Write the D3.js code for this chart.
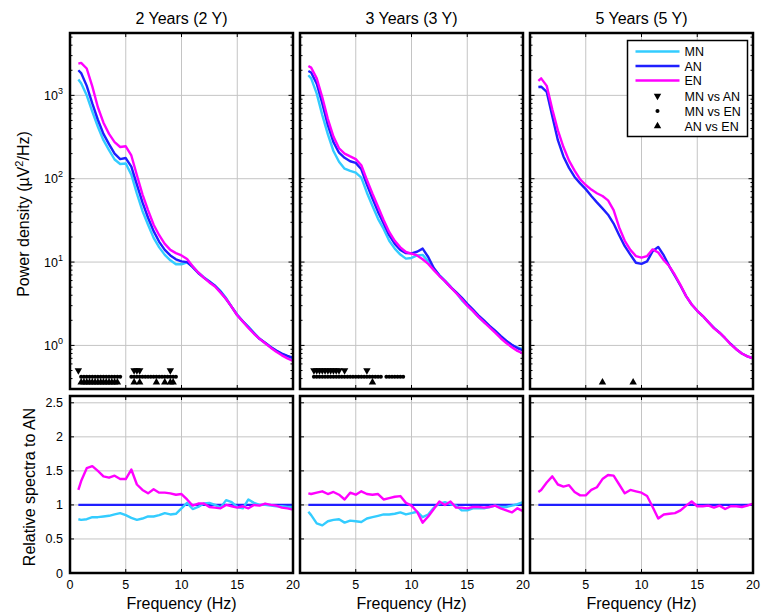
<!DOCTYPE html>
<meta charset="utf-8">
<script src="https://d3js.org/d3.v7.min.js"></script>
<style>
  body { margin: 0; background: #fff; }
  text { font-family: "Liberation Sans", Arial, sans-serif; fill: #000; }
</style>
<body>
<div id="chart"></div>
<script>
// frequency grid (Hz)
var freq = [0.75, 1, 1.5, 2, 2.5, 3, 3.5, 4, 4.5, 5, 5.5, 6, 6.5, 7, 7.5, 8, 8.5, 9, 9.5, 10,
            10.5, 11, 11.5, 12, 12.5, 13, 13.5, 14, 14.5, 15, 15.5, 16, 16.5, 17, 17.5, 18, 18.5, 19, 19.5, 20];

var titles = ["2 Years (2 Y)", "3 Years (3 Y)", "5 Years (5 Y)"];
var groups = ["MN", "AN", "EN"];
var contrasts = ["MN vs AN", "MN vs EN", "AN vs EN"];

// power density (uV^2/Hz)
var mn2 = [1550, 1400, 1000, 640, 420, 290, 220, 170, 150, 152, 112, 66, 41, 28, 19.5, 15, 12.2, 10.5, 9.4, 9.4,
           9.9, 8.9, 7.5, 6.6, 5.9, 5.2, 4.5, 3.7, 2.9, 2.35, 1.95, 1.68, 1.42, 1.2, 1.07, 0.95, 0.86, 0.79, 0.74, 0.69];
var an2 = [2000, 1850, 1300, 800, 510, 345, 260, 200, 172, 177, 140, 85, 52, 34, 23.5, 17.5, 14, 12, 10.8, 10.2,
           10.0, 8.7, 7.4, 6.5, 5.8, 5.2, 4.4, 3.6, 2.9, 2.3, 1.95, 1.65, 1.4, 1.2, 1.08, 0.96, 0.87, 0.8, 0.75, 0.71];
var en2 = [2400, 2450, 2100, 1280, 720, 470, 345, 275, 240, 245, 190, 110, 65, 42, 28, 21, 16.5, 14, 12.8, 12,
           10.9, 8.9, 7.5, 6.5, 5.7, 5.1, 4.3, 3.6, 2.9, 2.3, 1.93, 1.62, 1.38, 1.2, 1.06, 0.94, 0.84, 0.76, 0.7, 0.65];

var mn3 = [1740, 1600, 1050, 580, 340, 215, 160, 132, 124, 118, 103, 68, 47, 33, 25, 18, 14.5, 12.3, 11.0, 11.2,
           12.0, 12.2, 10.2, 8.3, 7.0, 6.0, 5.1, 4.3, 3.5, 3.0, 2.6, 2.2, 1.9, 1.7, 1.48, 1.25, 1.12, 1.0, 0.95, 0.9];
var an3 = [1960, 1880, 1380, 800, 440, 275, 205, 178, 162, 155, 130, 85, 58, 40, 29, 21, 16.5, 14, 12.8, 12.7,
           13.3, 14.5, 11.5, 8.5, 6.9, 5.9, 5.0, 4.35, 3.75, 3.15, 2.7, 2.3, 2.0, 1.72, 1.5, 1.3, 1.14, 1.02, 0.93, 0.87];
var en3 = [2250, 2150, 1600, 950, 520, 320, 232, 200, 185, 172, 145, 97, 66, 46, 32, 23, 18, 15, 13.2, 12.6,
           12, 10.8, 9.5, 8.0, 6.8, 5.9, 5.0, 4.25, 3.6, 3.0, 2.6, 2.2, 1.9, 1.65, 1.42, 1.22, 1.07, 0.95, 0.86, 0.8];

// no MN group at 5 years
var an5 = [1260, 1270, 1100, 560, 290, 185, 135, 105, 88, 75, 62, 52, 44, 37, 29, 21, 15.5, 12.3, 9.8, 9.5,
           10.2, 13.5, 15.2, 12, 8.9, 6.8, 5.2, 3.9, 3.1, 2.6, 2.25, 1.9, 1.62, 1.42, 1.22, 1.04, 0.9, 0.8, 0.74, 0.7];
var en5 = [1490, 1600, 1300, 680, 380, 240, 165, 125, 98, 84, 74, 67, 62, 55, 42, 26, 18, 14, 11.8, 11.3,
           11.8, 14.2, 13, 10.5, 8.9, 7.0, 5.3, 3.9, 3.1, 2.6, 2.25, 1.9, 1.6, 1.42, 1.22, 1.03, 0.9, 0.8, 0.74, 0.7];

// spectra relative to AN
var relMn2 = [0.79, 0.78, 0.79, 0.82, 0.82, 0.83, 0.84, 0.86, 0.88, 0.85, 0.81, 0.78, 0.8, 0.83, 0.83, 0.85, 0.88, 0.86, 0.87, 0.95,
              1.03, 0.94, 0.97, 1.02, 1.03, 1.0, 0.96, 1.07, 1.04, 0.97, 0.95, 1.08, 1.03, 1.0, 1.0, 0.99, 0.98, 0.98, 0.97, 0.97];
var relEn2 = [1.22, 1.35, 1.54, 1.57, 1.5, 1.42, 1.4, 1.43, 1.38, 1.38, 1.52, 1.3, 1.22, 1.17, 1.23, 1.18, 1.18, 1.17, 1.15, 1.16,
              1.08, 0.99, 1.02, 1.02, 0.97, 0.96, 0.95, 1.0, 0.98, 0.96, 0.98, 0.95, 1.0, 0.99, 1.02, 1.0, 0.99, 0.96, 0.95, 0.93];
var relMn3 = [0.9, 0.85, 0.73, 0.7, 0.76, 0.78, 0.79, 0.74, 0.77, 0.76, 0.75, 0.8, 0.82, 0.84, 0.86, 0.86, 0.87, 0.89, 0.86, 0.88,
              0.9, 0.82, 0.86, 0.96, 1.02, 1.04, 1.01, 0.99, 0.92, 0.92, 0.95, 0.95, 0.95, 0.97, 0.99, 0.97, 0.97, 0.99, 1.01, 1.04];
var relEn3 = [1.17, 1.16, 1.18, 1.2, 1.16, 1.19, 1.15, 1.08, 1.18, 1.15, 1.2, 1.16, 1.15, 1.16, 1.08, 1.1, 1.12, 1.13, 1.03, 0.99,
              0.9, 0.74, 0.83, 0.94, 1.05, 1.0, 1.05, 0.96, 0.96, 0.95, 0.97, 0.97, 0.96, 0.97, 0.99, 0.95, 0.92, 0.89, 0.95, 0.91];
var relEn5 = [1.19, 1.22, 1.33, 1.42, 1.3, 1.27, 1.29, 1.19, 1.14, 1.14, 1.22, 1.26, 1.38, 1.44, 1.43, 1.3, 1.17, 1.22, 1.2, 1.18,
              1.13, 0.97, 0.8, 0.86, 0.87, 0.88, 0.92, 0.99, 1.05, 0.98, 0.98, 0.99, 0.96, 0.99, 0.94, 0.98, 0.98, 0.97, 0.99, 1.02];
var relAn = 1;

// frequencies with significant differences (Hz)
var sigMnAn2 = [0.75, 5.75, 6, 6.25, 9];
var sigMnEn2 = [1, 1.25, 1.5, 1.75, 2, 2.25, 2.5, 2.75, 3, 3.25, 3.5, 3.75, 4, 4.25, 4.5,
                5.5, 5.75, 6, 6.25, 6.5, 6.75, 7, 7.25, 7.5, 7.75, 8, 8.25, 8.5, 8.75, 9, 9.25, 9.5];
var sigAnEn2 = [1, 1.25, 1.5, 1.75, 2, 2.25, 2.5, 2.75, 3, 3.25, 3.5, 3.75, 4, 4.25,
                5.75, 6.25, 7.75, 8.5, 9, 9.25];
var sigMnAn3 = [1.25, 1.5, 1.75, 2, 2.25, 2.5, 2.75, 3, 3.25, 3.5, 4, 6];
var sigMnEn3 = [1.25, 1.5, 1.75, 2, 2.25, 2.5, 2.75, 3, 3.25, 3.5, 3.75, 4, 4.25, 4.5, 4.75, 5, 5.25, 5.5, 5.75, 6,
                6.25, 6.5, 6.75, 7, 7.25, 7.75, 8, 8.25, 8.5, 8.75, 9, 9.25];
var sigAnEn3 = [6.5];
var sigAnEn5 = [6.5, 9.25];
var sigLevel = [0.5, 0.42, 0.36];   // rows where the markers sit

var xTicks = [0, 5, 10, 15, 20];
var relTicks = [0, 0.5, 1, 1.5, 2, 2.5];

var colors = {MN: "#33ccff", AN: "#1f1fff", EN: "#ff00ff"};

var panels = [
  {title: titles[0], MN: mn2, AN: an2, EN: en2, relMN: relMn2, relEN: relEn2, sig: [sigMnAn2, sigMnEn2, sigAnEn2]},
  {title: titles[1], MN: mn3, AN: an3, EN: en3, relMN: relMn3, relEN: relEn3, sig: [sigMnAn3, sigMnEn3, sigAnEn3]},
  {title: titles[2], MN: null, AN: an5, EN: en5, relMN: null, relEN: relEn5, sig: [[], [], sigAnEn5]}
];

var width = 762, height = 616;
var panelLeft = [70, 300, 530], panelW = 223;
var topBox = [33, 389], botBox = [396, 573];

var svg = d3.select("#chart").append("svg")
    .attr("width", width)
    .attr("height", height);

var yTop = d3.scaleLog().domain([0.3, 5600]).range([topBox[1], topBox[0]]);
var yBot = d3.scaleLinear().domain([0, 2.6]).range([botBox[1], botBox[0]]);

var symbols = [
  d3.symbol().type(d3.symbolTriangle).size(24),
  d3.symbol().type(d3.symbolCircle).size(13),
  d3.symbol().type(d3.symbolTriangle).size(24)
];
var symRotate = [180, 0, 0];

panels.forEach(function(p, k) {
  var x = d3.scaleLinear().domain([0, 20]).range([panelLeft[k], panelLeft[k] + panelW]);
  var g = svg.append("g");

  // ---- clip paths
  ["top", "bot"].forEach(function(name) {
    var box = name == "top" ? topBox : botBox;
    svg.append("clipPath").attr("id", "clip-" + name + k)
      .append("rect")
        .attr("x", x(0)).attr("y", box[0])
        .attr("width", panelW).attr("height", box[1] - box[0]);
  });

  // ---- grid
  var grid = g.append("g").attr("stroke", "#c4c4c4").attr("stroke-width", 1);
  [5, 10, 15].forEach(function(v) {
    grid.append("line").attr("x1", x(v)).attr("x2", x(v)).attr("y1", topBox[0]).attr("y2", topBox[1]);
    grid.append("line").attr("x1", x(v)).attr("x2", x(v)).attr("y1", botBox[0]).attr("y2", botBox[1]);
  });
  [1, 10, 100, 1000].forEach(function(v) {
    grid.append("line").attr("x1", x(0)).attr("x2", x(20)).attr("y1", yTop(v)).attr("y2", yTop(v));
  });
  relTicks.slice(1).forEach(function(v) {
    grid.append("line").attr("x1", x(0)).attr("x2", x(20)).attr("y1", yBot(v)).attr("y2", yBot(v));
  });

  // ---- inward ticks
  var ticks = g.append("g").attr("stroke", "#000").attr("stroke-width", 1);
  xTicks.forEach(function(v) {
    [topBox, botBox].forEach(function(box) {
      ticks.append("line").attr("x1", x(v)).attr("x2", x(v)).attr("y1", box[1]).attr("y2", box[1] - 4);
      ticks.append("line").attr("x1", x(v)).attr("x2", x(v)).attr("y1", box[0]).attr("y2", box[0] + 4);
    });
  });
  yTop.ticks().forEach(function(v) {
    var major = Math.abs(Math.log10(v) % 1) < 1e-9;
    var len = major ? 4.5 : 2.5;
    ticks.append("line").attr("x1", x(0)).attr("x2", x(0) + len).attr("y1", yTop(v)).attr("y2", yTop(v));
    ticks.append("line").attr("x1", x(20)).attr("x2", x(20) - len).attr("y1", yTop(v)).attr("y2", yTop(v));
  });
  relTicks.forEach(function(v) {
    ticks.append("line").attr("x1", x(0)).attr("x2", x(0) + 4).attr("y1", yBot(v)).attr("y2", yBot(v));
    ticks.append("line").attr("x1", x(20)).attr("x2", x(20) - 4).attr("y1", yBot(v)).attr("y2", yBot(v));
  });

  // ---- power spectra
  var plotTop = g.append("g").attr("clip-path", "url(#clip-top" + k + ")");
  groups.forEach(function(name) {
    if (!p[name]) return;
    plotTop.append("path")
      .datum(p[name])
      .attr("fill", "none")
      .attr("stroke", colors[name])
      .attr("stroke-width", 2.4)
      .attr("stroke-linejoin", "round")
      .attr("d", d3.line().x(function(d, i) { return x(freq[i]); }).y(function(d) { return yTop(d); }));
  });

  // significance markers
  p.sig.forEach(function(list, j) {
    plotTop.selectAll(null)
      .data(list)
      .enter()
      .append("path")
        .attr("d", symbols[j])
        .attr("fill", "#000")
        .attr("transform", function(d) {
          return "translate(" + x(d) + "," + yTop(sigLevel[j]) + ") rotate(" + symRotate[j] + ")";
        });
  });

  // ---- relative spectra
  var plotBot = g.append("g").attr("clip-path", "url(#clip-bot" + k + ")");
  plotBot.append("line")
    .attr("x1", x(freq[0])).attr("x2", x(freq[freq.length - 1]))
    .attr("y1", yBot(relAn)).attr("y2", yBot(relAn))
    .attr("stroke", colors.AN).attr("stroke-width", 2.4);
  ["MN", "EN"].forEach(function(name) {
    var vals = p["rel" + name];
    if (!vals) return;
    plotBot.append("path")
      .datum(vals)
      .attr("fill", "none")
      .attr("stroke", colors[name])
      .attr("stroke-width", 2.4)
      .attr("stroke-linejoin", "round")
      .attr("d", d3.line().x(function(d, i) { return x(freq[i]); }).y(function(d) { return yBot(d); }));
  });

  // ---- frames
  [topBox, botBox].forEach(function(box) {
    g.append("rect")
      .attr("x", x(0)).attr("y", box[0])
      .attr("width", panelW).attr("height", box[1] - box[0])
      .attr("fill", "none").attr("stroke", "#000").attr("stroke-width", 2.5);
  });

  // ---- texts
  g.append("text")
    .attr("x", x(10)).attr("y", 24)
    .attr("text-anchor", "middle")
    .style("font-size", "16px")
    .text(p.title);

  g.selectAll(null)
    .data(k == 0 ? xTicks : xTicks.slice(1))
    .enter()
    .append("text")
      .attr("x", function(d) { return x(d); })
      .attr("y", botBox[1] + 16)
      .attr("text-anchor", "middle")
      .style("font-size", "12.5px")
      .text(function(d) { return d; });

  g.append("text")
    .attr("x", x(10)).attr("y", 609)
    .attr("text-anchor", "middle")
    .style("font-size", "16px")
    .text("Frequency (Hz)");

  if (k == 0) {
    [1, 10, 100, 1000].forEach(function(v) {
      var t = g.append("text")
        .attr("x", x(0) - 7).attr("y", yTop(v) + 4.5)
        .attr("text-anchor", "end")
        .style("font-size", "12.5px");
      t.append("tspan").text("10");
      t.append("tspan").attr("dy", -6).style("font-size", "9px").text(Math.round(Math.log10(v)));
    });
    relTicks.forEach(function(v) {
      g.append("text")
        .attr("x", x(0) - 7).attr("y", yBot(v) + 4.5)
        .attr("text-anchor", "end")
        .style("font-size", "12.5px")
        .text(v);
    });

    var yl = g.append("text")
      .attr("transform", "translate(29,214) rotate(-90)")
      .attr("text-anchor", "middle")
      .style("font-size", "16px");
    yl.append("tspan").text("Power density (\u00b5V");
    yl.append("tspan").attr("dy", -6).style("font-size", "11px").text("2");
    yl.append("tspan").attr("dy", 6).text("/Hz)");

    g.append("text")
      .attr("transform", "translate(35,487) rotate(-90)")
      .attr("text-anchor", "middle")
      .style("font-size", "16px")
      .text("Relative spectra to AN");
  }
});

// ---- legend (in the 5 year panel)
var lg = svg.append("g").attr("transform", "translate(627.5,40.5)");
lg.append("rect")
  .attr("width", 120).attr("height", 96)
  .attr("fill", "#fff").attr("stroke", "#000").attr("stroke-width", 1.5);
groups.forEach(function(name, i) {
  var yy = 11 + i * 14.5;
  lg.append("line")
    .attr("x1", 8).attr("x2", 52).attr("y1", yy).attr("y2", yy)
    .attr("stroke", colors[name]).attr("stroke-width", 2.4);
  lg.append("text").attr("x", 57).attr("y", yy + 4.5).style("font-size", "12.5px").text(name);
});
contrasts.forEach(function(name, j) {
  var yy = 55.5 + j * 15;
  lg.append("path")
    .attr("d", symbols[j])
    .attr("fill", "#000")
    .attr("transform", "translate(30," + yy + ") rotate(" + symRotate[j] + ")");
  lg.append("text").attr("x", 57).attr("y", yy + 4.5).style("font-size", "12.5px").text(name);
});
</script>
</body>
